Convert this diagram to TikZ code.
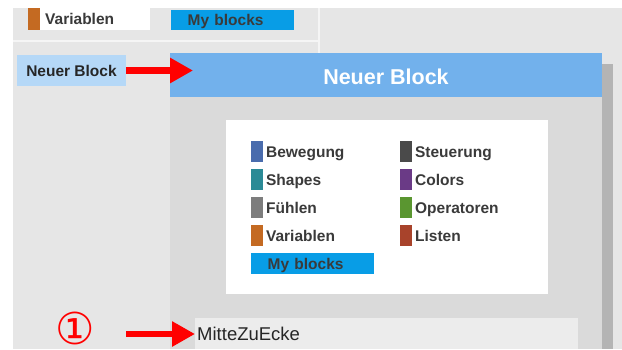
\documentclass[tikz,border=0pt]{standalone}
\usepackage{fontspec}
\setmainfont{Liberation Sans}
\newfontfamily\symfont{DejaVu Sans}
\usepackage{tikz}
\usetikzlibrary{arrows.meta,positioning}

\definecolor{panelgray}{HTML}{E6E6E6}
\definecolor{sepline}{HTML}{F5F5F5}
\definecolor{dlgbody}{HTML}{DADADA}
\definecolor{dlghead}{HTML}{72B1EC}
\definecolor{dlgshadow}{HTML}{B4B4B4}
\definecolor{btnblue}{HTML}{B5D8F7}
\definecolor{myblue}{HTML}{089DE6}
\definecolor{fieldgray}{HTML}{ECECEC}
\definecolor{txtgray}{HTML}{3A3A3A}
\definecolor{cBew}{HTML}{4A6CAD}
\definecolor{cSha}{HTML}{2B8A96}
\definecolor{cFue}{HTML}{7D7D7D}
\definecolor{cVar}{HTML}{C46A22}
\definecolor{cSte}{HTML}{4A4A4A}
\definecolor{cCol}{HTML}{6A3A86}
\definecolor{cOpe}{HTML}{5A9630}
\definecolor{cLis}{HTML}{A8432B}

\tikzset{
  lbl/.style={font=\fontsize{15.5}{18}\selectfont\bfseries, text=txtgray,
    inner sep=0pt, text height=11.1pt, text depth=0pt},
  swatch/.style={minimum width=12pt, minimum height=21pt, inner sep=0pt},
  catbox/.style={lbl, anchor=north west, fill=myblue, minimum height=21pt,
    inner xsep=16.5pt, text width=90pt, align=left},
  redarrow/.style={-{Triangle[length=23pt,width=24pt]}, line width=6.5pt, red},
}

\begin{document}
\begin{tikzpicture}[x=1pt,y=-1pt]
\useasboundingbox (0,0) rectangle (622,349);

\fill[panelgray] (13,8) rectangle (622,349);

% palette panel at the top
\draw[sepline, line width=1.5pt] (13,41) -- (319,41);
\draw[sepline, line width=1.5pt] (319,8) -- (319,53);
\node[swatch, fill=cVar, anchor=north west, minimum height=22pt] (topsw) at (28,8) {};
\node[lbl, anchor=north west, fill=white, minimum width=110pt, minimum height=22pt,
  inner xsep=5pt, text width=100pt, align=left] (topvar) at (40,8) {Variablen};
\node[catbox, minimum height=20pt, text width=90pt] (topmyb) at (171,10) {My blocks};

% button
\node[lbl, fill=btnblue, text=black!85, minimum width=109pt, minimum height=31pt] (btn) at (71.5,70.5) {Neuer Block};

% dialog
\fill[dlgshadow] (602,64) rectangle (613,349);
\fill[dlgbody] (170,97) rectangle (602,349);
\node[fill=dlghead, anchor=north west, minimum width=432pt, minimum height=44pt, inner sep=0pt] (head) at (170,53) {};
\node[font=\fontsize{21.5}{24}\selectfont\bfseries, text=white, inner sep=0pt,
  text height=15.4pt, text depth=0pt] (ttl) at (386,76.5) {Neuer Block};
\coordinate (hdtip) at (193,70.5);
\draw[redarrow] (btn.east) -- (hdtip);

% categories
\node[fill=white, anchor=north west, minimum width=322pt, minimum height=174pt, inner sep=0pt] (cats) at (226,120) {};
\foreach \i/\x/\r/\c/\t in {1/251/0/cBew/Bewegung, 2/251/1/cSha/Shapes,
  3/251/2/cFue/Fühlen, 4/251/3/cVar/Variablen, 5/400/0/cSte/Steuerung,
  6/400/1/cCol/Colors, 7/400/2/cOpe/Operatoren, 8/400/3/cLis/Listen}
{
  \node[swatch, fill=\c, anchor=west] (sw\i) at (\x,151.5+28.1*\r) {};
  \node[lbl, right=2.5pt of sw\i] (lb\i) {\t};
}
\node[catbox] (myb) at (251,253) {My blocks};

% name field
\node[anchor=north west, fill=fieldgray, minimum height=31pt, inner xsep=2pt,
  text width=379pt, align=left, font=\fontsize{18.5}{20}\selectfont, text=black!85,
  text height=13.3pt, text depth=0pt] (mze) at (195,318) {MitteZuEcke};
\node[font=\symfont\fontsize{44}{44}\selectfont, text=red, inner sep=0pt] (num) at (75,328) {①};
\coordinate (arrstart) at (126,334);
\draw[redarrow] (arrstart) -- (mze.west |- arrstart);

\end{tikzpicture}
\end{document}
